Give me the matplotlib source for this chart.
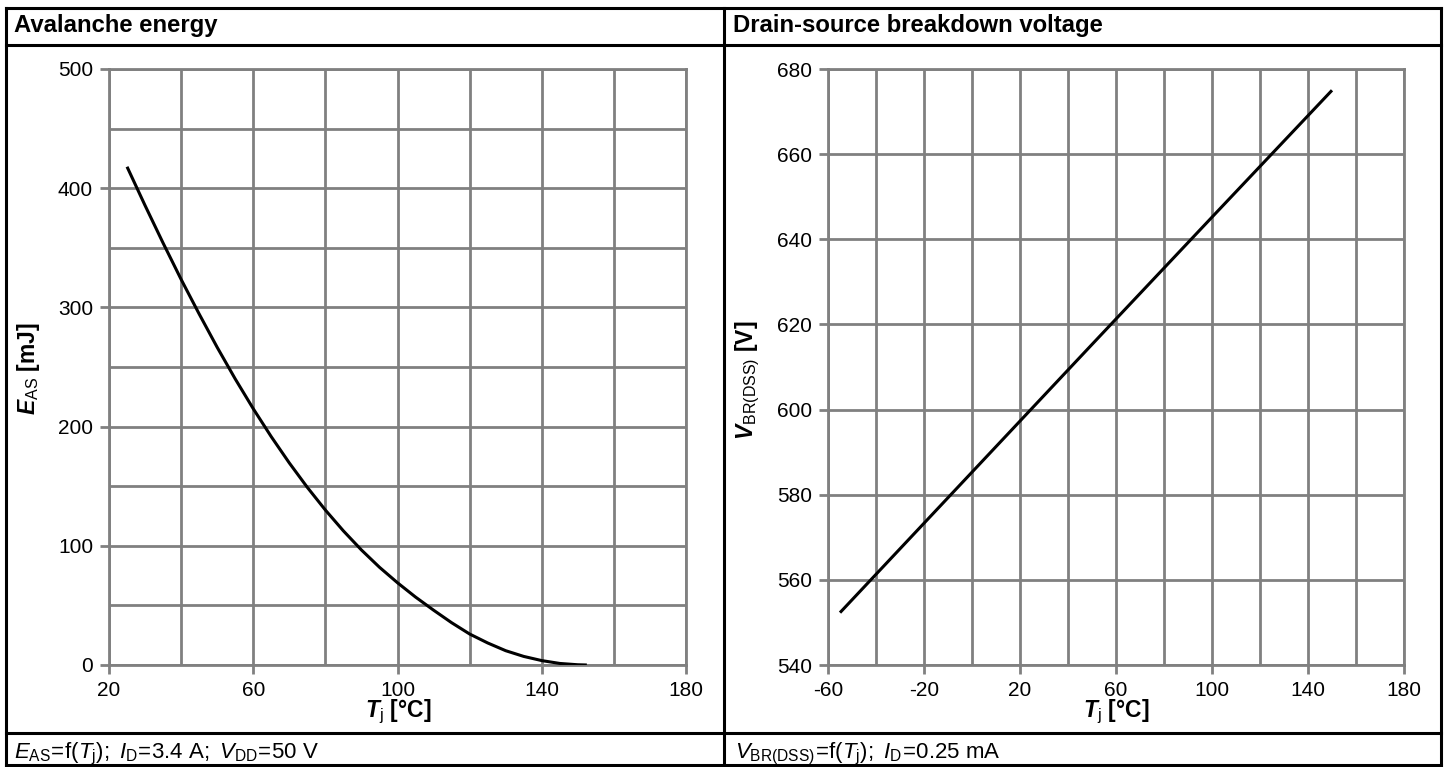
import matplotlib
matplotlib.use('Agg')
import matplotlib.pyplot as plt
from matplotlib.lines import Line2D
from matplotlib.ticker import MultipleLocator

# avalanche energy vs junction temperature
tj_eas = [25, 30, 35, 40, 45, 50, 55, 60, 65, 70, 75, 80, 85, 90, 95, 100,
          105, 110, 115, 120, 125, 130, 135, 140, 145, 150, 152.5]
eas = [418, 385.5, 354, 323.5, 294.5, 266.5, 240, 215, 191.5, 169.5, 149, 130, 112.5, 96.5, 82, 69,
       57, 46, 35.5, 26, 18.5, 12, 7.2, 3.7, 1.3, 0.2, 0]

# breakdown voltage vs junction temperature
tj_vbr = [-55, 0, 50, 100, 150]
vbr = [552.3, 585.3, 615.3, 645.2, 675.0]

left_xticks = [20, 60, 100, 140, 180]
left_yticks = [0, 100, 200, 300, 400, 500]
right_xticks = [-60, -20, 20, 60, 100, 140, 180]
right_yticks = [540, 560, 580, 600, 620, 640, 660, 680]

W, H = 1446, 767
GRID = '#808080'
FONT = 'Liberation Sans'

plt.rcParams['font.family'] = FONT
plt.rcParams['axes.unicode_minus'] = False
plt.rcParams['mathtext.fontset'] = 'custom'
plt.rcParams['mathtext.rm'] = FONT
plt.rcParams['mathtext.it'] = FONT + ':italic'
plt.rcParams['mathtext.bf'] = FONT + ':bold'
plt.rcParams['mathtext.bfit'] = FONT + ':italic:bold'
plt.rcParams['mathtext.sf'] = FONT


def fx(px):
    return px / W


def fy(py):
    return 1 - py / H


fig = plt.figure(figsize=(W / 100, H / 100), dpi=100)


def style_axes(ax, xlim, ylim, xticks, yticks, xminor, yminor):
    ax.set_xlim(*xlim)
    ax.set_ylim(*ylim)
    ax.set_xticks(xticks)
    ax.set_yticks(yticks)
    ax.xaxis.set_minor_locator(MultipleLocator(xminor))
    ax.yaxis.set_minor_locator(MultipleLocator(yminor))
    ax.grid(True, which='both', color=GRID, linewidth=2.0)
    ax.set_axisbelow(True)
    for s in ax.spines.values():
        s.set_color(GRID)
        s.set_linewidth(2.0)
    ax.tick_params(which='major', direction='out', length=6.5, width=2.0, color=GRID,
                   labelsize=15, pad=5)
    ax.tick_params(which='minor', length=0)


# Left: avalanche energy
ax1 = fig.add_axes([fx(109), fy(665), fx(686 - 109), (665 - 69) / H])
style_axes(ax1, (20, 180), (0, 500), left_xticks, left_yticks, 20, 50)
ax1.plot(tj_eas, eas, color='black', linewidth=2.2, solid_capstyle='butt',
         solid_joinstyle='round', zorder=3)

# Right: breakdown voltage
ax2 = fig.add_axes([fx(828), fy(665), fx(1404 - 828), (665 - 69) / H])
style_axes(ax2, (-60, 180), (540, 680), right_xticks, right_yticks, 20, 20)
ax2.plot(tj_vbr, vbr, color='black', linewidth=2.2, solid_capstyle='butt', zorder=3)

# Axis labels
lab = dict(fontsize=16.5, ha='center', va='center')
fig.text(fx(29), fy(369), r'$\mathbfit{E}_{\mathrm{AS}}\ \mathbf{[mJ]}$', rotation=90, **lab)
fig.text(fx(748), fy(380), r'$\mathbfit{V}_{\mathrm{BR(DSS)}}\ \mathbf{[V]}$', rotation=90, **lab)
fig.text(fx(398), fy(712), r'$\mathbfit{T}_{\mathrm{j}}\ \mathbf{[°C]}$', **lab)
fig.text(fx(1116), fy(712), r'$\mathbfit{T}_{\mathrm{j}}\ \mathbf{[°C]}$', **lab)

# Titles
fig.text(fx(14), fy(32), 'Avalanche energy', fontsize=17.2, fontweight='bold', va='baseline')
fig.text(fx(733), fy(32), 'Drain-source breakdown voltage', fontsize=17.2, fontweight='bold',
         va='baseline')

# Footers
fig.text(fx(14), fy(758),
         r'$\mathit{E}_{\mathrm{AS}}\!=\!\mathrm{f(}\mathit{T}_{\mathrm{j}}\mathrm{);}\ '
         r'\mathit{I}_{\mathrm{D}}\!=\!\mathrm{3.4\ A;}\ \mathit{V}_{\mathrm{DD}}\!=\!\mathrm{50\ V}$',
         fontsize=16, va='baseline')
fig.text(fx(735), fy(758),
         r'$\mathit{V}_{\mathrm{BR(DSS)}}\!=\!\mathrm{f(}\mathit{T}_{\mathrm{j}}\mathrm{);}\ '
         r'\mathit{I}_{\mathrm{D}}\!=\!\mathrm{0.25\ mA}$',
         fontsize=16, va='baseline')

# Table frame
frame = dict(color='black', linewidth=2.2, transform=fig.transFigure)
for y in (8, 45, 733, 765):
    fig.add_artist(Line2D([fx(6), fx(1441)], [fy(y), fy(y)], **frame))
for x in (6, 724, 1441):
    fig.add_artist(Line2D([fx(x), fx(x)], [fy(8), fy(765)], **frame))

fig.savefig('out.png', dpi=100)
